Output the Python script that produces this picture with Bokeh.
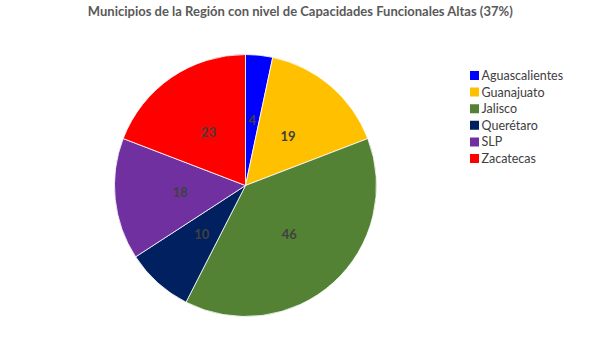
import math
from bokeh.plotting import figure
from bokeh.models import Range1d, ColumnDataSource
from bokeh.core.properties import value
from bokeh.embed import file_html
from bokeh.resources import INLINE

states = ["Aguascalientes", "Guanajuato", "Jalisco", "Querétaro", "SLP", "Zacatecas"]
counts = [4, 19, 46, 10, 18, 23]
colors = ["#0000FF", "#FFC000", "#548235", "#002060", "#7030A0", "#FF0000"]
title_text = "Municipios de la Región con nivel de Capacidades Funcionales Altas (37%)"

W, H = 600, 353
p = figure(width=W, height=H, output_backend="svg", toolbar_location=None,
           x_range=Range1d(0, W), y_range=Range1d(0, H), min_border=0)
p.axis.visible = False
p.grid.visible = False
p.outline_line_color = None
p.background_fill_color = "white"
p.border_fill_color = "white"

cx, cy, r = 245, H - 185, 131
total = sum(counts)
starts, ends, lx, ly = [], [], [], []
cum = 0
for c in counts:
    a0 = math.pi / 2 - 2 * math.pi * cum / total
    cum += c
    a1 = math.pi / 2 - 2 * math.pi * cum / total
    starts.append(a0)
    ends.append(a1)
    mid = (a0 + a1) / 2
    lx.append(cx + 0.5 * r * math.cos(mid))
    ly.append(cy + 0.5 * r * math.sin(mid))

src = ColumnDataSource(dict(start=starts, end=ends, color=colors,
                            lx=lx, ly=ly, lab=[str(c) for c in counts]))
p.wedge(x=cx, y=cy, radius=r, start_angle="start", end_angle="end",
        direction="clock", fill_color="color", line_color="white",
        line_width=0.8, source=src)
p.text(x="lx", y="ly", text="lab", source=src, text_align="center",
       text_baseline="middle", text_font=value("Lato"), text_font_style="bold",
       text_font_size="13px", text_color="#404040")

# title
p.text(x=[W / 2], y=[H - 10], text=[title_text], text_align="center",
       text_baseline="middle", text_font=value("Lato"), text_font_style="bold",
       text_font_size="13px", text_color="#595959")

# legend
leg_y = [H - 75 - 16.6 * i for i in range(len(states))]
p.rect(x=[474] * len(states), y=leg_y, width=9, height=9,
       fill_color=colors, line_color=None)
p.text(x=[481] * len(states), y=leg_y, text=states, text_align="left",
       text_baseline="middle", text_font=value("Lato"),
       text_font_size="12.5px", text_color="#404040")

open("out.html", "w").write(file_html(p, INLINE))
